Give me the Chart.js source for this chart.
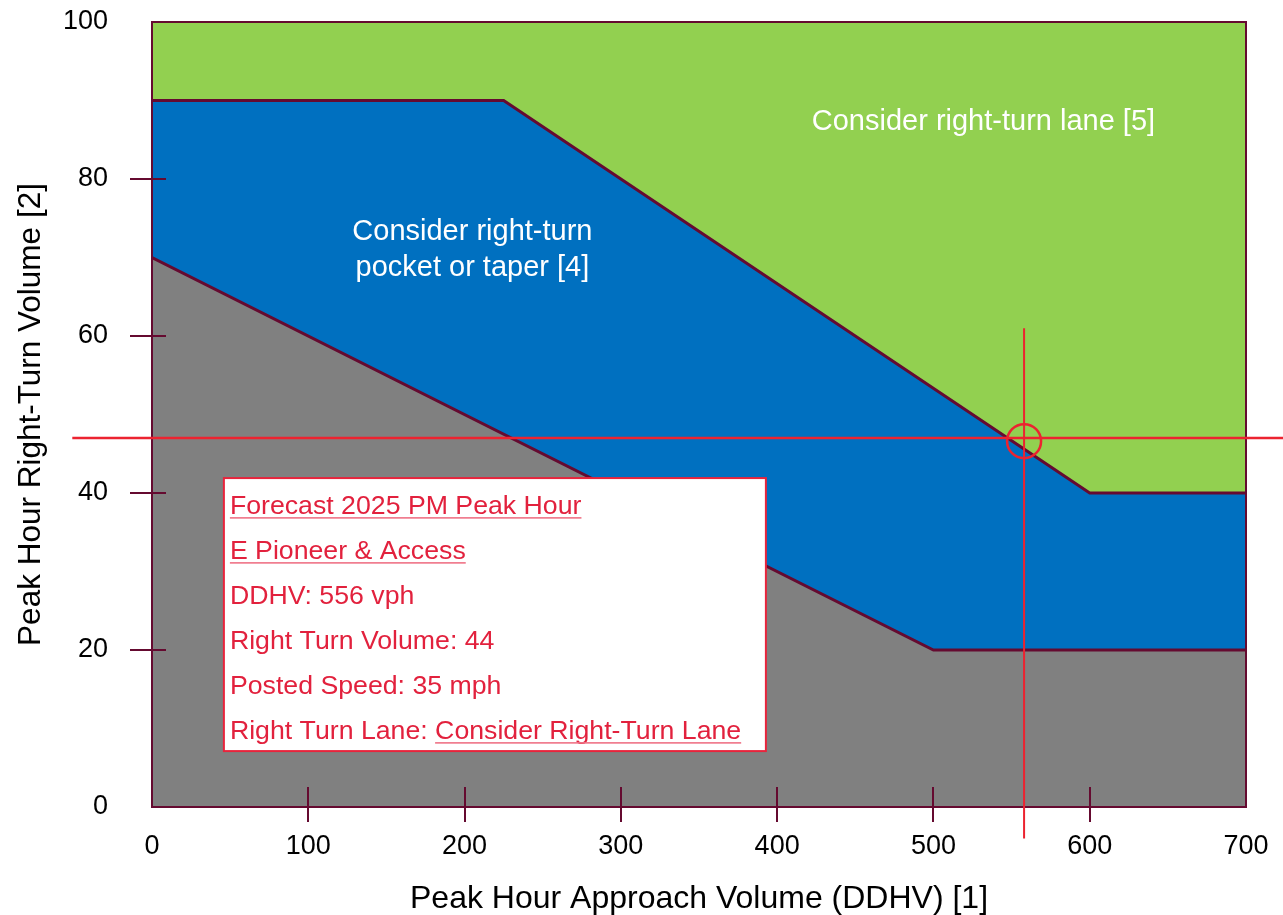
<!DOCTYPE html>
<html>
<head>
<meta charset="utf-8">
<script src="https://cdn.jsdelivr.net/npm/chart.js@4/dist/chart.umd.min.js"></script>
<style>
  html, body { margin: 0; padding: 0; background: #fff; }
  #wrap { width: 1283px; height: 915px; }
</style>
</head>
<body>
<div id="wrap"><canvas id="chart" width="1283" height="915"></canvas></div>
<script>
// boundary lines of the three regions (x = DDHV, y = right-turn volume)
const lowerX = [0, 500, 700];
const lowerY = [70, 20, 20];
const upperX = [0, 225, 600, 700];
const upperY = [90, 90, 40, 40];
const topX = [0, 700];
const topY = [100, 100];

// forecast point and its crosshair
const forecastX = 558;
const forecastY = 47;
const hLineX = [-51, 724];
const vLineY = [61, -4];

// axes
const xTickValues = [0, 100, 200, 300, 400, 500, 600, 700];
const yTickValues = [0, 20, 40, 60, 80, 100];
const xMarks = [100, 200, 300, 400, 500, 600];
const yMarks = [20, 40, 60, 80];

// texts
const regionLabels = [
  { x: 532, y: 87.3, lines: ['Consider right-turn lane [5]'] },
  { x: 205, y: 73.2, lines: ['Consider right-turn', 'pocket or taper [4]'] },
];
const boxAt = { x: 46, y: 41.9 };
const boxLines = [
  [['Forecast 2025 PM Peak Hour', true]],
  [['E Pioneer & Access', true]],
  [['DDHV: 556 vph', false]],
  [['Right Turn Volume: 44', false]],
  [['Posted Speed: 35 mph', false]],
  [['Right Turn Lane: ', false], ['Consider Right-Turn Lane', true]],
];

const maroon = '#650a30';
const red = '#ec2330';
const textRed = '#e2213d';
const font = '"Liberation Sans", Arial, sans-serif';

const pts = (xs, ys) => xs.map((x, i) => ({ x, y: ys[i] }));

const overlay = {
  id: 'overlay',
  beforeDatasetDraw(chart, args) {
    if (args.index !== 2) return;
    const { ctx, chartArea: a, scales: { x, y } } = chart;
    ctx.save();
    ctx.strokeStyle = maroon;
    ctx.lineWidth = 2;
    ctx.strokeRect(a.left, a.top, a.right - a.left, a.bottom - a.top);
    ctx.beginPath();
    xMarks.forEach(v => {
      const px = Math.round(x.getPixelForValue(v));
      ctx.moveTo(px, a.bottom - 20);
      ctx.lineTo(px, a.bottom + 15);
    });
    yMarks.forEach(v => {
      const py = Math.round(y.getPixelForValue(v));
      ctx.moveTo(a.left - 22, py);
      ctx.lineTo(a.left + 14, py);
    });
    ctx.stroke();
    ctx.restore();
  },
  afterDraw(chart) {
    const { ctx, scales: { x, y } } = chart;
    ctx.save();
    ctx.fillStyle = '#fff';
    ctx.font = '29px ' + font;
    ctx.textAlign = 'center';
    ctx.textBaseline = 'middle';
    regionLabels.forEach(l => {
      const cx = x.getPixelForValue(l.x);
      const cy = y.getPixelForValue(l.y);
      l.lines.forEach((t, i) => ctx.fillText(t, cx, cy + i * 36));
    });

    // info box
    const left = x.getPixelForValue(boxAt.x);
    const top = y.getPixelForValue(boxAt.y);
    ctx.fillStyle = '#fff';
    ctx.fillRect(left, top, 542, 273);
    ctx.strokeStyle = '#e8243c';
    ctx.lineWidth = 2;
    ctx.strokeRect(left, top, 542, 273);
    ctx.font = '26.7px ' + font;
    ctx.textAlign = 'left';
    ctx.textBaseline = 'alphabetic';
    boxLines.forEach((segs, i) => {
      let tx = left + 6;
      const ty = top + 36 + i * 45;
      segs.forEach(([t, under]) => {
        const w = ctx.measureText(t).width;
        ctx.fillStyle = textRed;
        ctx.fillText(t, tx, ty);
        if (under) {
          ctx.fillStyle = '#ef7386';
          ctx.fillRect(tx, ty + 3, w, 1.6);
        }
        tx += w;
      });
    });
    ctx.restore();
  }
};

new Chart(document.getElementById('chart'), {
  type: 'line',
  data: {
    datasets: [
      { data: pts(hLineX, [forecastY, forecastY]), borderColor: red, borderWidth: 2.5, pointRadius: 0, clip: false, fill: false },
      { data: pts([forecastX, forecastX], vLineY), borderColor: red, borderWidth: 2, pointRadius: 0, clip: false, fill: false },
      { data: [{ x: forecastX, y: forecastY - 0.4 }], showLine: false, pointRadius: 17, pointBorderWidth: 2.5,
        pointBorderColor: red, pointBackgroundColor: 'rgba(0,0,0,0)', clip: false, fill: false },
      { data: pts(topX, topY), borderWidth: 0, borderColor: 'rgba(0,0,0,0)', backgroundColor: '#92d050', pointRadius: 0, fill: 4 },
      { data: pts(upperX, upperY), borderWidth: 3, borderColor: maroon, backgroundColor: '#0070c0', pointRadius: 0, fill: 5 },
      { data: pts(lowerX, lowerY), borderWidth: 3, borderColor: maroon, backgroundColor: '#808080', pointRadius: 0, fill: 'origin' },
    ]
  },
  options: {
    responsive: false,
    animation: false,
    events: [],
    layout: { padding: { top: 22, right: 37, left: 0, bottom: 0 } },
    plugins: {
      legend: { display: false },
      tooltip: { enabled: false },
      filler: { drawTime: 'beforeDatasetsDraw' }
    },
    scales: {
      x: {
        type: 'linear', min: 0, max: 700,
        afterFit: s => { s.height = 108; s.paddingLeft = 0; s.paddingRight = 0; },
        afterBuildTicks: s => { s.ticks = xTickValues.map(v => ({ value: v })); },
        grid: { display: false },
        border: { display: false },
        ticks: { color: '#000', font: { family: font, size: 27 }, padding: 15, maxRotation: 0 },
        title: { display: true, text: 'Peak Hour Approach Volume (DDHV) [1]', color: '#000',
                 font: { family: font, size: 32 }, padding: { top: 0, bottom: -3 } }
      },
      y: {
        type: 'linear', min: 0, max: 100,
        afterFit: s => { s.width = 152; s.paddingTop = 0; s.paddingBottom = 0; },
        afterBuildTicks: s => { s.ticks = yTickValues.map(v => ({ value: v })); },
        grid: { display: false },
        border: { display: false },
        ticks: { color: '#000', font: { family: font, size: 27 }, padding: 36 },
        title: { display: true, text: 'Peak Hour Right-Turn Volume [2]', color: '#000',
                 font: { family: font, size: 31.5 }, padding: { top: 12, bottom: 12 } }
      }
    }
  },
  plugins: [overlay]
});
</script>
</body>
</html>
